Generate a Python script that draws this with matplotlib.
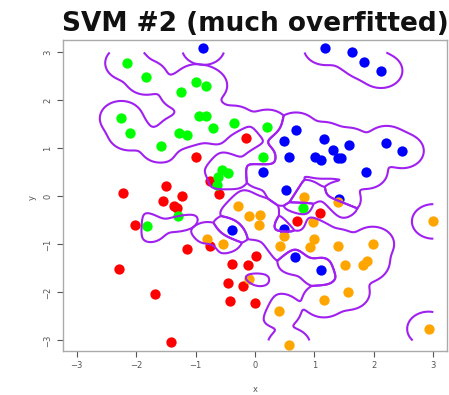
import numpy as np
import matplotlib.pyplot as plt

# training points by class
red_x = [-1.00, -1.49, -2.22, -1.22, -1.55, -1.37, -1.31, -2.02, -1.14, -2.29, -1.68,
         -1.42, -0.15, -0.76, -0.60, -0.75, 0.02, -0.39, -0.11, -0.46, -0.20, -0.42,
         0.00, 0.71, 1.09]
red_y = [0.82, 0.22, 0.07, 0.01, -0.10, -0.20, -0.25, -0.60, -1.09, -1.51, -2.04,
         -3.03, 1.22, 0.33, 0.05, -1.04, -1.25, -1.41, -1.42, -1.80, -1.86, -2.17,
         -2.22, -0.52, -0.35]

green_x = [-2.16, -1.83, -1.24, -0.99, -0.83, -2.25, -2.11, -1.28, -1.14, -1.58, -0.95,
           -0.82, -0.70, -0.35, 0.21, 0.14, -0.56, -0.45, -0.62, -0.64, -1.81, -1.29,
           0.81]
green_y = [2.78, 2.48, 2.17, 2.39, 2.31, 1.63, 1.32, 1.32, 1.28, 1.06, 1.68,
           1.68, 1.43, 1.53, 1.45, 0.82, 0.55, 0.48, 0.41, 0.24, -0.61, -0.41,
           -0.25]

blue_x = [-0.87, 1.18, 1.63, 1.84, 2.12, 0.69, 0.49, 0.58, 1.01, 1.11, 1.16, 1.58,
          1.31, 1.40, 1.45, 2.21, 2.48, 1.87, 0.13, 0.53, 1.42, -0.38, 0.49, 0.68,
          1.11]
blue_y = [3.10, 3.10, 3.00, 2.81, 2.62, 1.39, 1.16, 0.82, 0.82, 0.75, 1.19, 1.07,
          0.97, 0.80, 0.80, 1.11, 0.95, 0.52, 0.52, 0.14, -0.06, -0.70, -0.68, -1.27,
          -1.54]

orange_x = [0.82, 1.39, -0.28, -0.10, 0.08, 0.06, 0.97, -0.81, -0.53, 0.49, 0.42,
            1.00, 0.92, 1.39, 1.98, 1.52, 1.82, 1.89, -0.10, 1.57, 1.16, 0.41,
            0.57, 3.00, 2.92]
orange_y = [-0.01, -0.12, -0.20, -0.41, -0.39, -0.60, -0.53, -0.89, -1.00, -0.83, -1.03,
            -0.89, -1.05, -1.04, -0.99, -1.43, -1.43, -1.35, -1.72, -2.00, -2.16, -2.38,
            -3.10, -0.52, -2.76]

ticks = [-3, -2, -1, 0, 1, 2, 3]

# RBF-kernel vote over a grid -> much overfitted decision regions
gamma = 22.0
bias = np.exp(-gamma * 0.36 ** 2)
g = np.linspace(-3, 3, 241)
GX, GY = np.meshgrid(g, g)


def kernel_sum(xs, ys):
    d2 = (GX[..., None] - np.array(xs)) ** 2 + (GY[..., None] - np.array(ys)) ** 2
    return np.exp(-gamma * d2).sum(-1)


scores = np.stack([bias + kernel_sum(red_x, red_y),
                   kernel_sum(green_x, green_y),
                   kernel_sum(blue_x, blue_y),
                   kernel_sum(orange_x, orange_y)])
scores = np.log(scores + 1e-12)

fig = plt.figure(figsize=(4.49, 3.95), dpi=100)
ax = fig.add_axes([0.1403, 0.1114, 0.8552, 0.7873])

ax.scatter(red_x, red_y, s=55, color='#ff0000', linewidths=0, zorder=2)
ax.scatter(green_x, green_y, s=55, color='#00ff00', linewidths=0, zorder=2)
ax.scatter(blue_x, blue_y, s=55, color='#0000ff', linewidths=0, zorder=2)
ax.scatter(orange_x, orange_y, s=55, color='#ffa500', linewidths=0, zorder=2)

# boundary of each class region: its score against the best of the others
for k in (1, 2, 3):
    others = np.delete(scores, k, axis=0).max(0)
    ax.contour(GX, GY, scores[k] - others, levels=[0.0],
               colors='#a020f0', linewidths=1.5, zorder=3)

ax.set_xlim(-3.23, 3.23)
ax.set_ylim(-3.22, 3.26)
ax.set_xticks(ticks)
ax.set_yticks(ticks)
ax.tick_params(labelsize=6, colors='#555555', length=4, width=0.8)
for lab in ax.get_yticklabels():
    lab.set_rotation(90)
    lab.set_va('center')
for sp in ax.spines.values():
    sp.set_color('#aaaaaa')
    sp.set_linewidth(1.0)

fig.text(255 / 449, 1 - 390 / 395, 'x', fontsize=6, color='#555555', ha='center', va='center')
fig.text(32 / 449, 1 - 197 / 395, 'y', fontsize=6, color='#555555', ha='center', va='center',
         rotation=90)
fig.text(255 / 449, 1 - 31 / 395, 'SVM #2 (much overfitted)', fontsize=19, fontweight='bold',
         color='#111111', ha='center', va='baseline')

fig.savefig('out.png', dpi=100)
